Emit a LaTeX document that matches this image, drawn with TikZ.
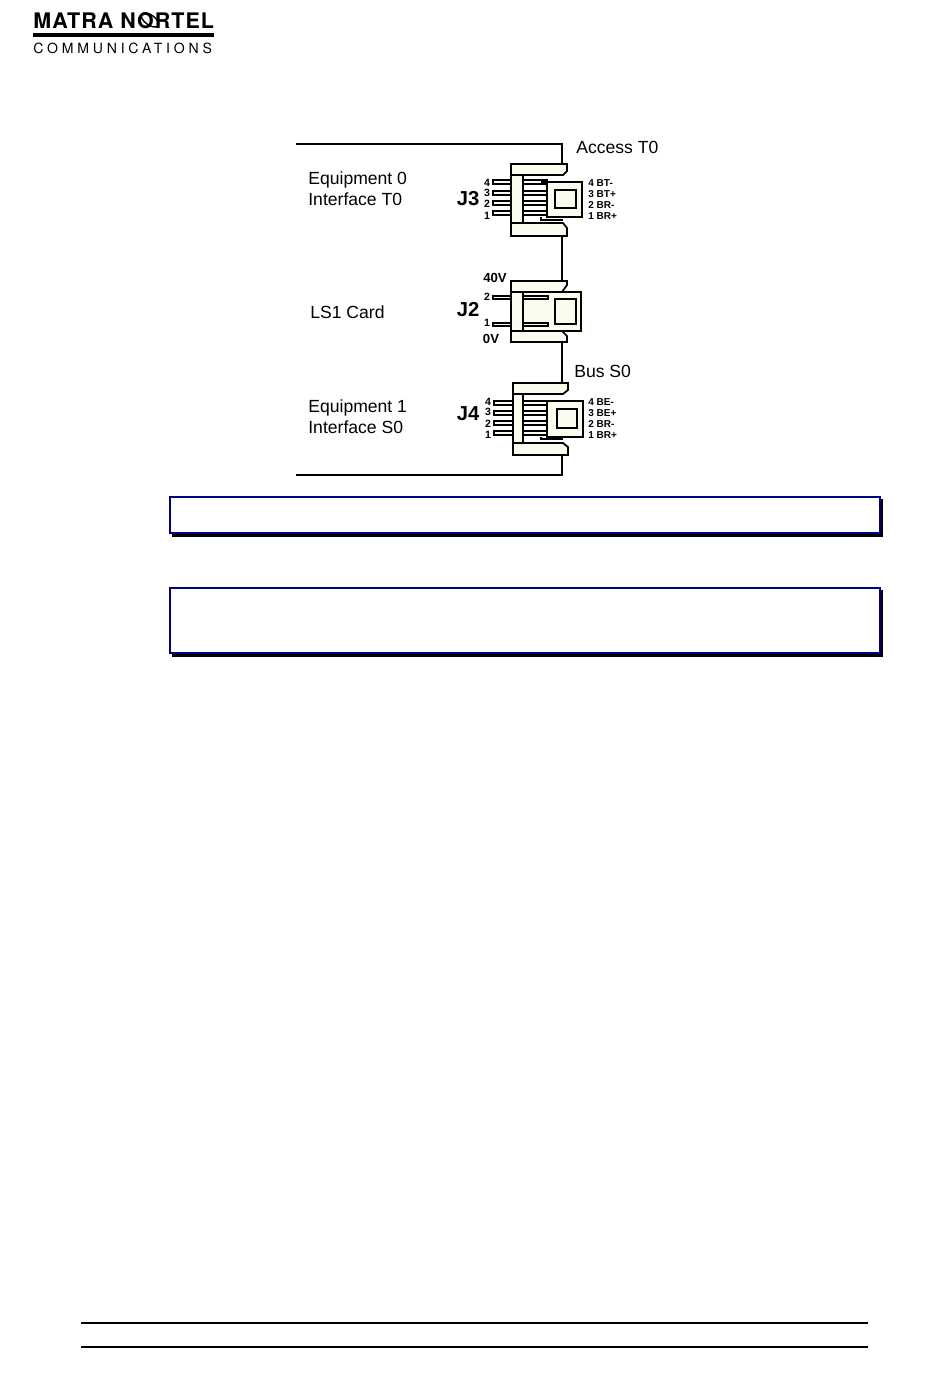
\documentclass[tikz,border=0pt]{standalone}
\usepackage{fontspec}
\setmainfont{Liberation Sans}
\newfontfamily\logofont[LetterSpace=5]{TeX Gyre Heros}
\newfontfamily\sublogofont[LetterSpace=27]{TeX Gyre Heros}
\usetikzlibrary{positioning}
\definecolor{boxblue}{RGB}{0,0,128}
\definecolor{ditherfill}{RGB}{250,252,238}
\tikzset{
  frameline/.style={black, line width=1.3pt},
  housing/.style={draw=black, fill=ditherfill, line width=1pt},
  pinline/.style={draw=black, fill=ditherfill, line width=0.7pt},
  partlabel/.style={font=\fontsize{10}{12}\selectfont, anchor=west, inner sep=0pt},
  pinlabel/.style={font=\fontsize{6}{7}\selectfont\bfseries, inner sep=0pt},
  signallabel/.style={font=\fontsize{5.7}{7}\selectfont\bfseries, anchor=west, inner sep=0pt},
  voltlabel/.style={font=\fontsize{7.5}{9}\selectfont\bfseries, inner sep=0pt},
  jacklabel/.style={font=\fontsize{11.5}{13}\selectfont\bfseries, inner sep=0pt},
  notebox/.style={draw=boxblue, fill=white, line width=1.5pt},
  noteshadow/.style={fill=black},
  footline/.style={black, line width=1.2pt}
}
\begin{document}
\begin{tikzpicture}[x=0.02cm,y=-0.02cm]
\useasboundingbox (0,0) rectangle (950,1379);
%logo
\node[font=\fontsize{12.2}{14}\selectfont\logofont\bfseries, anchor=west, inner sep=0pt](logotop) at (33,21){MATRA NORTEL};
\draw[black, line width=0.8pt, rotate around={-35:(150,20)}] (150,20) ellipse (10 and 5);
\fill[black] (33,33) rectangle (214,36.5);
\node[font=\fontsize{8}{9}\selectfont\sublogofont, anchor=west, inner sep=0pt](logosub) at (33,48){COMMUNICATIONS};
%frame and wiring
\coordinate (frametop) at (296,144);
\coordinate (framebot) at (296,475);
\coordinate (cornertop) at (562,144);
\coordinate (cornerbot) at (562,475);
\coordinate (jthreetop) at (562,165);
\coordinate (jthreebot) at (562,236);
\coordinate (jtwotop) at (562,281);
\coordinate (jtwobot) at (562,342);
\coordinate (jfourtop) at (562,383);
\coordinate (jfourbot) at (562,455);
\draw[frameline] (frametop) -- (cornertop) -- (jthreetop);
\draw[frameline] (jthreebot) -- (jtwotop);
\draw[frameline] (jtwobot) -- (jfourtop);
\draw[frameline] (jfourbot) -- (cornerbot) -- (framebot);
%J3 connector
\draw[pinline] (493,180) rectangle (511,184);
\draw[pinline] (493,191) rectangle (511,195);
\draw[pinline] (493,201) rectangle (511,205);
\draw[pinline] (493,211) rectangle (511,215);
\draw[housing] (511,164) -- (567,164) -- (567,171) -- (563,175) -- (523,175) -- (523,223) -- (563,223) -- (567,228) -- (567,236) -- (511,236) -- cycle;
\draw[housing] (547,182) rectangle (582,217);
\draw[housing] (555,190) rectangle (576,208);
\draw[pinline] (523,180) rectangle (547,184);
\draw[pinline] (523,191) rectangle (547,195);
\draw[pinline] (523,201) rectangle (547,205);
\draw[pinline] (523,211) rectangle (547,215);
\draw[black, line width=0.7pt] (511,175) -- (523,175);
\draw[black, line width=0.7pt] (511,223) -- (523,223);
\draw[black, line width=0.7pt] (541,182) -- (547,182);
\draw[black, line width=0.7pt] (541,217) -- (541,220) -- (563,220);
%J2 connector
\draw[pinline] (493,296) rectangle (511,299);
\draw[pinline] (493,323) rectangle (511,326);
\draw[housing] (511,281) -- (567,281) -- (567,285) -- (562,292) -- (523,292) -- (523,331) -- (562,331) -- (567,336) -- (567,342) -- (511,342) -- cycle;
\draw[housing] (523,292) rectangle (581,331);
\draw[housing] (555,299) rectangle (576,324);
\draw[pinline] (523,296) rectangle (548,299);
\draw[pinline] (523,323) rectangle (548,326);
\draw[black, line width=0.7pt] (511,292) -- (523,292);
\draw[black, line width=0.7pt] (511,331) -- (523,331);
%J4 connector
\draw[pinline] (494,401) rectangle (513,405);
\draw[pinline] (494,411) rectangle (513,415);
\draw[pinline] (494,421) rectangle (513,425);
\draw[pinline] (494,431) rectangle (513,435);
\draw[housing] (513,383) -- (568,383) -- (568,390) -- (563,394) -- (523,394) -- (523,443) -- (563,443) -- (568,447) -- (568,455) -- (513,455) -- cycle;
\draw[housing] (547,401) rectangle (583,437);
\draw[housing, line width=1.3pt] (557,409) rectangle (577,428);
\draw[pinline] (523,401) rectangle (547,405);
\draw[pinline] (523,411) rectangle (547,415);
\draw[pinline] (523,421) rectangle (547,425);
\draw[pinline] (523,431) rectangle (547,435);
\draw[black, line width=0.7pt] (513,394) -- (523,394);
\draw[black, line width=0.7pt] (513,443) -- (523,443);
\draw[black, line width=0.7pt] (541,401) -- (547,401);
\draw[black, line width=0.7pt] (541,437) -- (541,439) -- (563,439);
%left texts
\node[partlabel](eqzero) at (308,180){Equipment 0};
\node[partlabel](ifzero) at (308,199){Interface T0};
\node[partlabel](lsone) at (310,312){LS1 Card};
\node[partlabel](eqone) at (308,408){Equipment 1};
\node[partlabel](ifone) at (308,427){Interface S0};
%right texts
\node[partlabel](accesszero) at (576,147){Access T0};
\node[partlabel](buszero) at (574,371){Bus S0};
%jack names
\node[jacklabel](jthree) at (468,199){J3};
\node[jacklabel](jtwo) at (468,310){J2};
\node[jacklabel](jfour) at (468,414){J4};
%pin numbers
\node[pinlabel](jthreea) at (487,183){4};
\node[pinlabel](jthreeb) at (487,193){3};
\node[pinlabel](jthreec) at (487,204){2};
\node[pinlabel](jthreed) at (487,216){1};
\node[pinlabel](jtwoa) at (487,297){2};
\node[pinlabel](jtwob) at (487,323){1};
\node[pinlabel](jfoura) at (488,402){4};
\node[pinlabel](jfourb) at (488,412){3};
\node[pinlabel](jfourc) at (488,424){2};
\node[pinlabel](jfourd) at (488,435){1};
\node[voltlabel](voltfour) at (495,278){40V};
\node[voltlabel](voltzero) at (491,339){0V};
%pin names
\node[signallabel](sigthreea) at (588,183){4 BT-};
\node[signallabel](sigthreeb) at (588,194){3 BT+};
\node[signallabel](sigthreec) at (588,205){2 BR-};
\node[signallabel](sigthreed) at (588,216){1 BR+};
\node[signallabel](sigfoura) at (588,402){4 BE-};
\node[signallabel](sigfourb) at (588,413){3 BE+};
\node[signallabel](sigfourc) at (588,424){2 BR-};
\node[signallabel](sigfourd) at (588,435){1 BR+};
%note boxes
\fill[noteshadow] (172,499) rectangle (883,537);
\draw[notebox] (170,497) rectangle (880,533);
\fill[noteshadow] (172,590) rectangle (883,657);
\draw[notebox] (170,588) rectangle (880,653);
%footer
\draw[footline] (81,1323) -- (868,1323);
\draw[footline] (81,1347) -- (868,1347);
\end{tikzpicture}
\end{document}
